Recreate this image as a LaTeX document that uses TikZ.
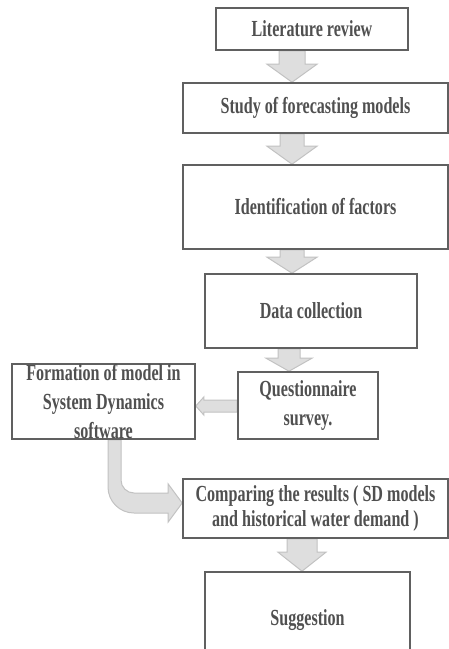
\documentclass[tikz,border=0pt]{standalone}
\usepackage{fontspec}
\setmainfont{Liberation Serif}[FakeStretch=0.7]
\usetikzlibrary{calc,backgrounds}
\definecolor{boxline}{HTML}{606060}
\definecolor{txt}{HTML}{505050}
\definecolor{arrfill}{HTML}{DEDEDE}
\definecolor{arrline}{HTML}{C2C2C2}
% #1 x, #2 from node, #3 to node, #4 head length, #5 shaft half width, #6 head half width
\newcommand\blkdown[6]{%
  \path[blockarrow] let \p1=(#2.south), \p2=(#3.north) in
   ({(#1-#5)*1pt},\y1) -- ({(#1+#5)*1pt},\y1) -- ({(#1+#5)*1pt},{\y2+#4pt})
   -- ({(#1+#6)*1pt},{\y2+#4pt}) -- ({#1*1pt},\y2) -- ({(#1-#6)*1pt},{\y2+#4pt})
   -- ({(#1-#5)*1pt},{\y2+#4pt}) -- cycle;}
\begin{document}
\begin{tikzpicture}[x=1pt,y=-1pt,
  box/.style={draw=boxline, line width=1.6pt, fill=white, inner sep=0pt,
    align=center, text=txt, font=\bfseries\fontsize{23}{29}\selectfont},
  blockarrow/.style={fill=arrfill, draw=arrline, line width=1pt, line join=miter}]
\useasboundingbox (0,0) rectangle (449,649);
\clip (0,0) rectangle (449,649);
\node[box, minimum width=192pt, minimum height=42pt] (b1) at (312,29) {Literature review};
\node[box, minimum width=265pt, minimum height=50pt] (b2) at (315.5,108) {Study of forecasting models};
\node[box, minimum width=265pt, minimum height=84pt] (b3) at (315.5,207) {Identification of factors};
\node[box, minimum width=212pt, minimum height=74pt] (b4) at (311,311) {Data collection};
\node[box, minimum width=140pt, minimum height=67pt] (b5) at (308,405.5) {Questionnaire\\survey.};
\node[box, minimum width=183pt, minimum height=75pt] (b6) at (103.5,401.5) {Formation of model in\\System Dynamics\\software};
\node[box, minimum width=265pt, minimum height=59pt, font=\bfseries\fontsize{23}{25}\selectfont] (b7) at (315.5,508.5) {Comparing the results ( SD models\\and historical water demand )};
\node[box, minimum width=205pt, minimum height=96pt] (b8) at (307.5,620) {Suggestion};
\begin{pgfonlayer}{background}
\blkdown{292}{b1}{b2}{18}{13}{25}
\blkdown{292}{b2}{b3}{18}{12}{25}
\blkdown{292}{b3}{b4}{16}{12}{25}
\blkdown{289}{b4}{b5}{13}{11}{23}
\blkdown{302}{b7}{b8}{19}{15}{24}
\path[blockarrow] let \p1=(b5.west), \p2=(b6.east) in
  (\x1,-400pt) -- ({\x2+8pt},-400pt) -- ({\x2+8pt},-397pt) -- (\x2,-406pt)
  -- ({\x2+8pt},-415pt) -- ({\x2+8pt},-412pt) -- (\x1,-412pt) -- cycle;
\path[blockarrow] let \p1=(b6.south), \p2=(b7.west) in
  (108pt,\y1) [rounded corners=26pt] -- (108pt,-513pt) [sharp corners]
  -- ({\x2-14pt},-513pt) -- ({\x2-14pt},-522pt) -- (\x2,-503pt)
  -- ({\x2-14pt},-484pt) -- ({\x2-14pt},-493pt) [rounded corners=13pt]
  -- (121pt,-493pt) [sharp corners] -- (121pt,\y1) -- cycle;
\end{pgfonlayer}
\end{tikzpicture}
\end{document}
